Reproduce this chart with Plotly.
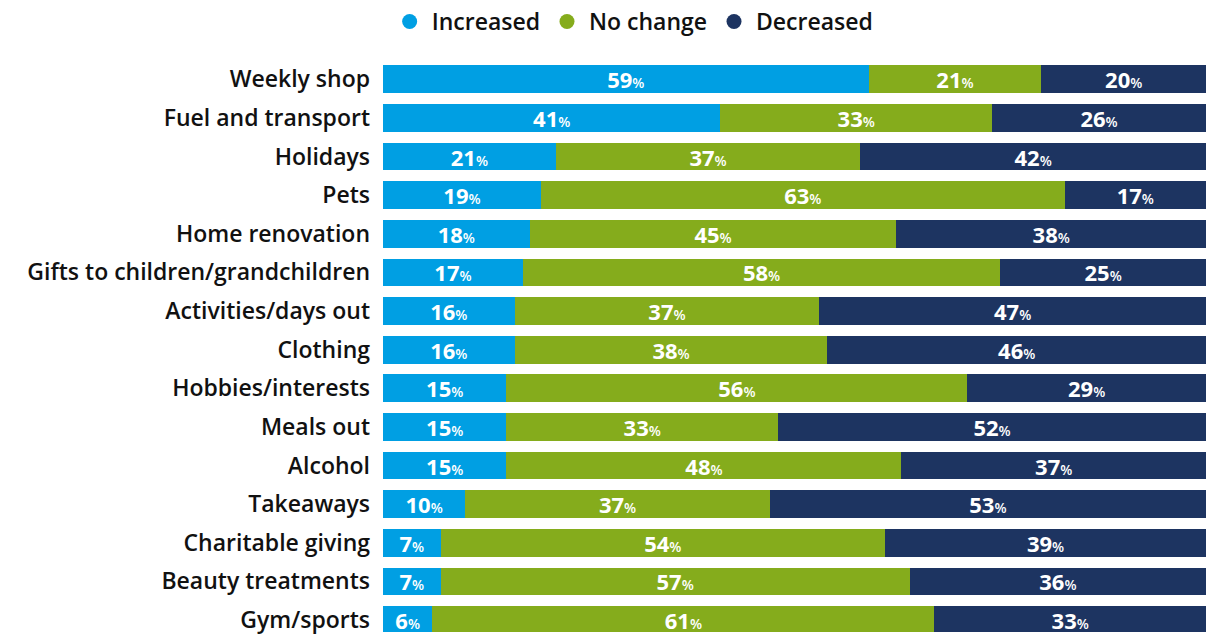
import plotly.graph_objects as go

categories = [
    "Weekly shop", "Fuel and transport", "Holidays", "Pets", "Home renovation",
    "Gifts to children/grandchildren", "Activities/days out", "Clothing",
    "Hobbies/interests", "Meals out", "Alcohol", "Takeaways",
    "Charitable giving", "Beauty treatments", "Gym/sports",
]
increased = [59, 41, 21, 19, 18, 17, 16, 16, 15, 15, 15, 10, 7, 7, 6]
no_change = [21, 33, 37, 63, 45, 58, 37, 38, 56, 33, 48, 37, 54, 57, 61]
decreased = [20, 26, 42, 17, 38, 25, 47, 46, 29, 52, 37, 53, 39, 36, 33]

series = [
    ("Increased", increased, "#009FE3"),
    ("No change", no_change, "#85AC1C"),
    ("Decreased", decreased, "#1D3461"),
]

FONT = "Open Sans"


def pct_label(v):
    return f"<b>{v}</b><span style='font-size:14px'>%</span>"


fig = go.Figure()
for name, vals, color in series:
    fig.add_trace(go.Bar(
        y=categories, x=vals, name=name, orientation="h",
        marker=dict(color=color, line=dict(width=0)),
        text=[pct_label(v) for v in vals],
        textposition="inside", insidetextanchor="middle",
        textangle=0, constraintext="none",
        textfont=dict(family=FONT, size=22, color="white"),
        showlegend=False, hoverinfo="x+y+name",
    ))
    # round legend markers
    fig.add_trace(go.Scatter(
        x=[None], y=[None], mode="markers", name=name,
        marker=dict(color=color, size=15, symbol="circle"),
        showlegend=True,
    ))

fig.update_layout(
    width=1206, height=635,
    barmode="stack", barnorm="percent", bargap=0.28,
    margin=dict(l=383, r=0, t=60, b=0),
    plot_bgcolor="white", paper_bgcolor="white",
    font=dict(family=FONT, size=23, color="#111111", weight=600),
    uniformtext=dict(minsize=10, mode="show"),
    legend=dict(
        orientation="h", xref="container", yref="container",
        x=0.525, xanchor="center", y=1.0, yanchor="top",
        traceorder="normal",
        font=dict(family=FONT, size=23, color="#111111", weight=600),
        itemwidth=34, tracegroupgap=0,
    ),
    xaxis=dict(range=[0, 100], visible=False, fixedrange=True),
    yaxis=dict(
        categoryorder="array", categoryarray=categories,
        range=[14.31, -0.5], showgrid=False, zeroline=False,
        ticks="", ticklabelstandoff=12,
        tickfont=dict(family=FONT, size=23, color="#111111", weight=600),
    ),
)

fig.write_html("out.html")
